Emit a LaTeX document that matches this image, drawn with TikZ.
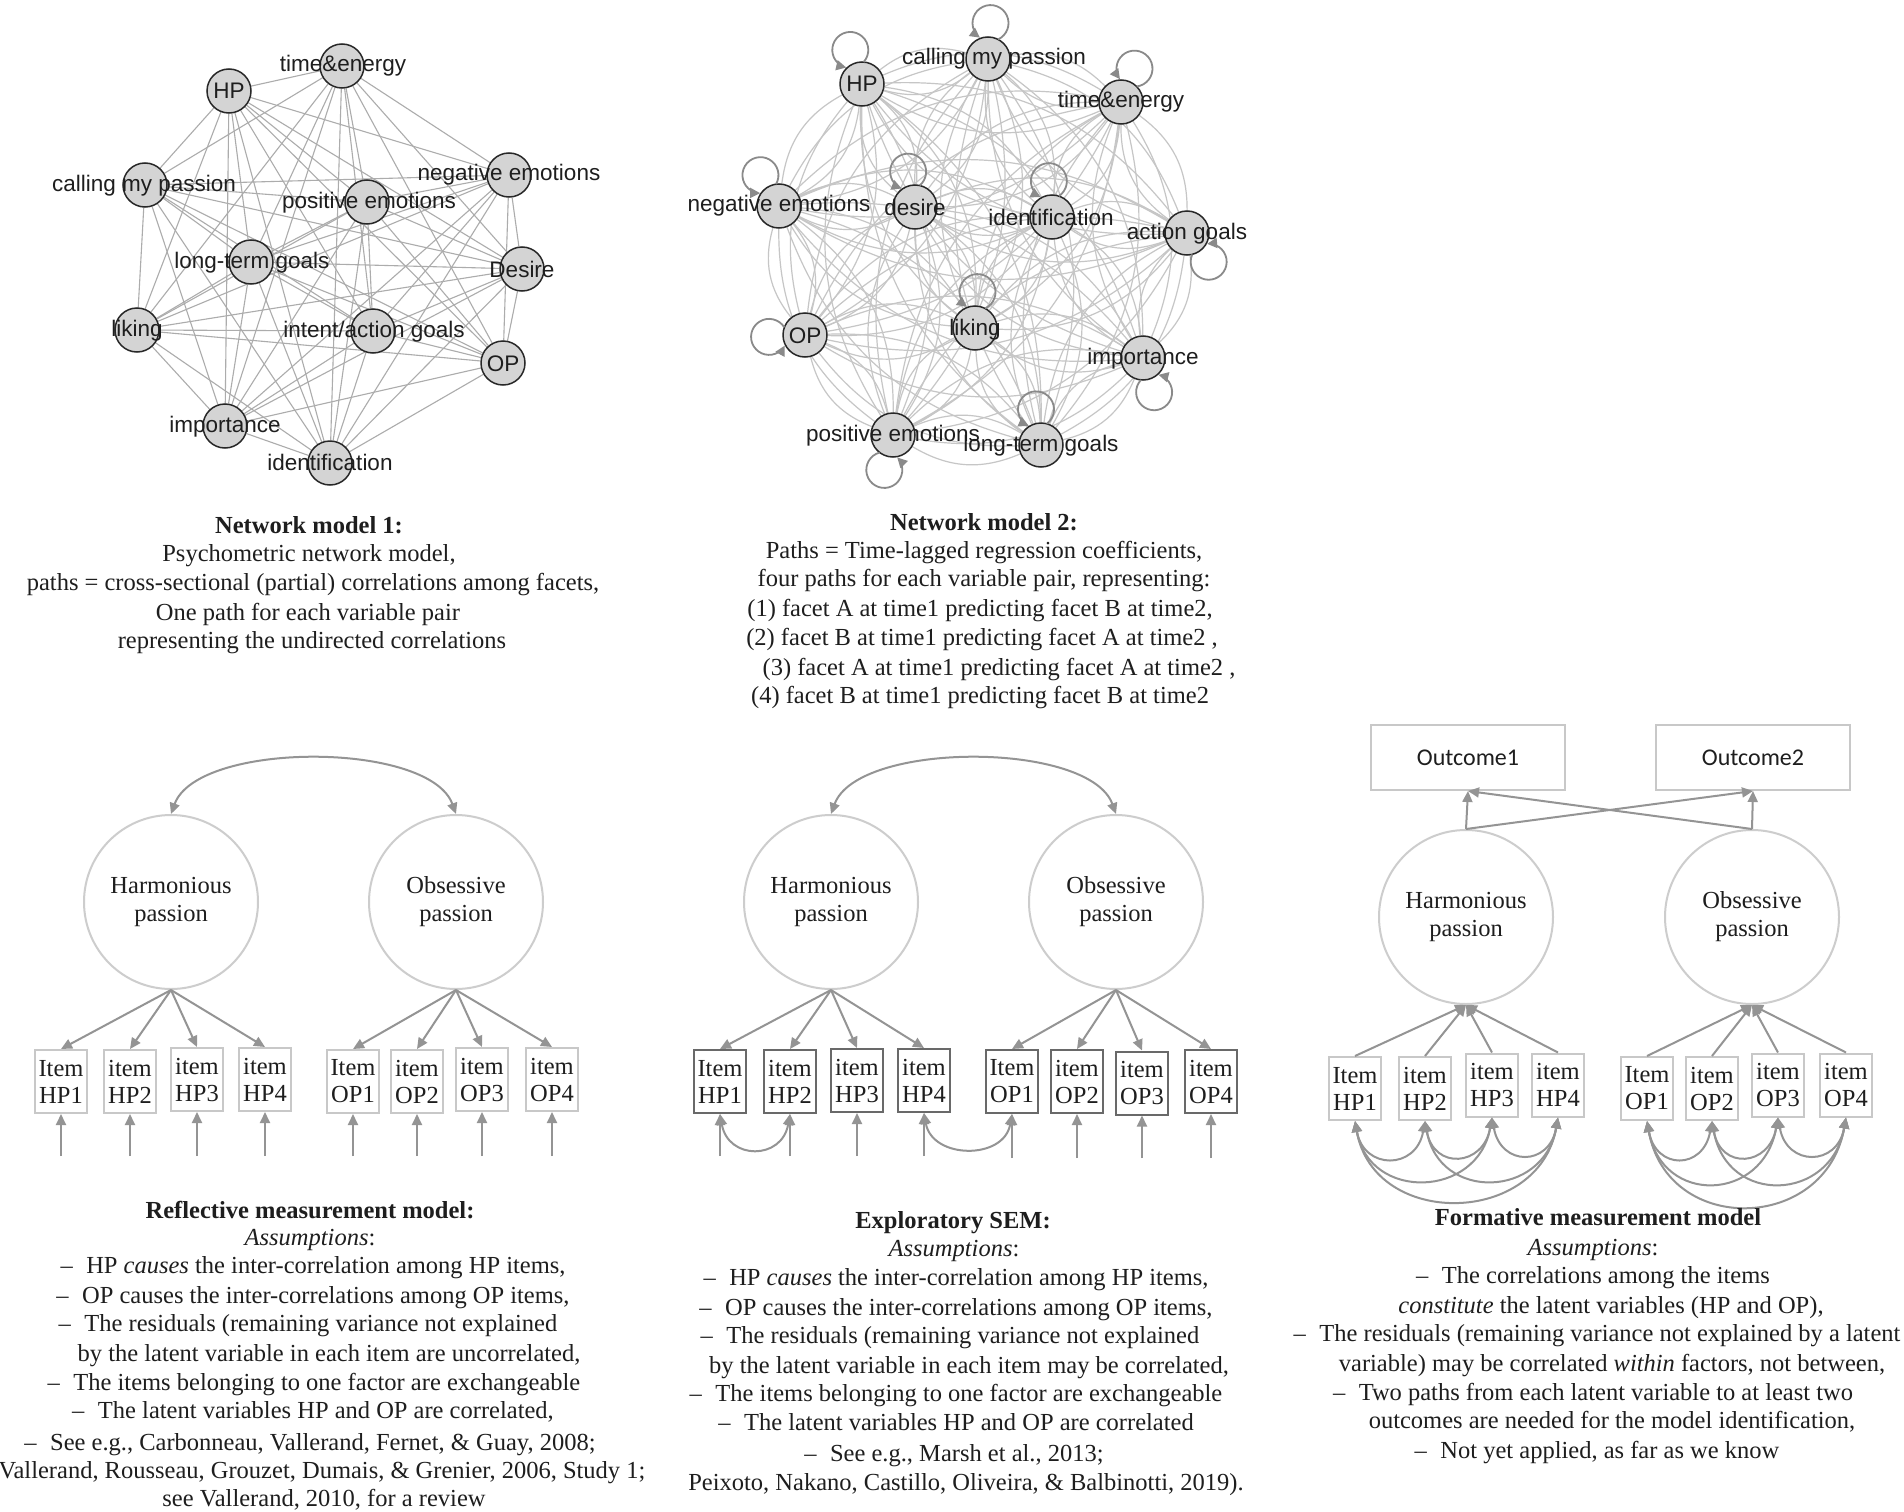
\documentclass[tikz,border=0pt]{standalone}
\usepackage{fontspec}
\setmainfont{Liberation Serif}
\newfontfamily\netfont{Liberation Sans}
\newfontfamily\calfont{Carlito}
\usetikzlibrary{arrows.meta}
\definecolor{txtc}{RGB}{30,30,30}
\definecolor{nodefill}{RGB}{212,212,212}
\definecolor{nodeline}{RGB}{40,40,40}
\definecolor{edgeA}{RGB}{172,172,172}
\definecolor{edgeB}{RGB}{198,198,198}
\definecolor{loopc}{RGB}{138,138,138}
\definecolor{arrc}{RGB}{148,148,148}
\definecolor{boxc}{RGB}{200,200,200}
\definecolor{circc}{RGB}{205,205,205}
\definecolor{darkbox}{RGB}{105,105,105}
\pgfdeclarelayer{back}
\pgfdeclarelayer{bg}
\pgfsetlayers{back,bg,main}
\newcommand{\mydash}{–\hspace{0.55em}}
\newcommand{\capline}[4]{\node[txt] (#1) at (#2,-#3) {#4};}
\begin{document}
\begin{tikzpicture}[x=1pt,y=1pt,
  netnode/.style={circle,draw=nodeline,fill=nodefill,line width=1.5pt,minimum size=44pt,inner sep=0pt},
  netlab/.style={anchor=base,inner sep=0pt,text=txtc,font=\netfont\fontsize{22.5}{27}\selectfont},
  eA/.style={draw=edgeA,line width=1.1pt},
  eB/.style={draw=edgeB,line width=1.2pt},
  loopst/.style={draw=loopc,line width=1.8pt,-{Triangle[length=10pt,width=10pt]}},
  latent/.style={circle,draw=circc,line width=2pt,minimum size=174pt,inner sep=0pt,align=center,text=txtc,font=\fontsize{24.5}{28}\selectfont},
  itembox/.style={draw=boxc,line width=2pt,minimum width=52pt,minimum height=63pt,inner sep=0pt,align=center,text=txtc,font=\fontsize{24.5}{27}\selectfont},
  esembox/.style={itembox,draw=darkbox},
  outbox/.style={draw=boxc,line width=2pt,minimum width=194pt,minimum height=65pt,inner sep=0pt,text=txtc,font=\calfont\fontsize{24}{28}\selectfont},
  arr/.style={draw=arrc,line width=2pt,-{Triangle[length=11pt,width=10pt]}},
  darr/.style={draw=arrc,line width=2pt,{Triangle[length=11pt,width=10pt]}-{Triangle[length=11pt,width=10pt]}},
  txt/.style={anchor=base,inner sep=0pt,text=txtc,font=\fontsize{24.5}{29.5}\selectfont}
]
\begin{pgfonlayer}{back}
\fill[white] (0,0) rectangle (1904,-1512);
\end{pgfonlayer}
\path[use as bounding box] (0,0) rectangle (1904,-1512);

% ---------------- Network model 1 ----------------
\foreach \n/\x/\y in {a1/342/66,a2/229/91,a3/145/185,a4/367/202,a5/509/175,a6/251/262,
  a7/522/269,a8/137/330,a9/373/331,a10/503/363,a11/225/426,a12/330/463}
  {\node[netnode] (\n) at (\x,-\y) {};}
\begin{pgfonlayer}{bg}
\foreach \i in {1,...,11}{
  \pgfmathtruncatemacro\ii{\i+1}
  \foreach \j in {\ii,...,12}{\draw[eA] (a\i) -- (a\j);}
}
\end{pgfonlayer}
\foreach \n/\x/\y/\t in {la1/343/72/time\&energy,la2/229/99/HP,la3/144/191/calling my passion,
  la4/369/208/positive emotions,la5/509/180/negative emotions,la6/252/268/long-term goals,
  la7/522/277/Desire,la8/137/336/liking,la9/374/337/{intent/action goals},la10/503/371/OP,
  la11/225/432/importance,la12/330/470/identification}
  {\node[netlab] (\n) at (\x,-\y) {\t};}

% ---------------- Network model 2 ----------------
\foreach \n/\x/\y in {b1/862/84,b2/988/59,b3/1121/102,b4/779/206,b5/915/207,b6/1052/217,
  b7/1187/233,b8/805/335,b9/975/328,b10/1143/358,b11/893/435,b12/1041/445}
  {\node[netnode] (\n) at (\x,-\y) {};}
\begin{pgfonlayer}{bg}
\foreach \i in {1,...,11}{
  \pgfmathtruncatemacro\ii{\i+1}
  \foreach \j in {\ii,...,12}{
    \draw[eB] (b\i) to[bend left=27] (b\j);
    \draw[eB] (b\j) to[bend left=27] (b\i);}
}
\end{pgfonlayer}
\foreach \n/\t in {b1/109,b2/86,b3/68,b4/121,b5/101,b6/95,b7/-53,b8/183,b9/86,b10/-72,b11/-104,b12/98}{
  \pgfmathtruncatemacro\ta{\t-151}
  \pgfmathtruncatemacro\tb{\t+148}
  \draw[loopst] ([shift={(\t:36)}]\n.center) ++(\ta:18) arc[start angle=\ta, end angle=\tb, radius=18];
}
\foreach \n/\x/\y/\t in {lb1/862/92/HP,lb2/994/65/calling my passion,lb3/1121/107/time\&energy,
  lb4/779/211/negative emotions,lb5/915/215/desire,lb6/1051/225/identification,
  lb7/1187/239/action goals,lb8/805/343/OP,lb9/975/335/liking,lb10/1143/364/importance,
  lb11/893/441/positive emotions,lb12/1041/451/long-term goals}
  {\node[netlab] (\n) at (\x,-\y) {\t};}

% ---------------- Captions, networks ----------------
\capline{tn1}{309}{533}{\textbf{Network model 1:}}
\capline{tn2}{309}{561}{Psychometric network model,}
\capline{tn3}{313}{590}{paths = cross-sectional (partial) correlations among facets,}
\capline{tn4}{308}{620}{One path for each variable pair}
\capline{tn5}{312}{648}{representing the undirected correlations}

\capline{tm1}{984}{530}{\textbf{Network model 2:}}
\capline{tm2}{984}{558}{Paths = Time-lagged regression coefficients,}
\capline{tm3}{984}{586}{four paths for each variable pair, representing:}
\capline{tm4}{980}{616}{(1) facet A at time1 predicting facet B at time2,}
\capline{tm5}{982}{645}{(2) facet B at time1 predicting facet A at time2 ,}
\capline{tm6}{999}{675}{(3) facet A at time1 predicting facet A at time2 ,}
\capline{tm7}{980}{703}{(4) facet B at time1 predicting facet B at time2}

% ---------------- Reflective measurement model ----------------
\node[latent] (rhp) at (171,-902) {Harmonious\\passion};
\node[latent] (rop) at (456,-902) {Obsessive\\passion};
\draw[darr] (rhp.north) to[out=70,in=110,looseness=0.7] (rop.north);
\foreach \n/\x/\y/\a/\b in {rh1/61/1081.5/Item/HP1,rh2/130/1081.5/item/HP2,rh3/197/1079.5/item/HP3,rh4/265/1079.5/item/HP4}{
  \node[itembox] (\n) at (\x,-\y) {\a\\\b};
  \draw[arr] (rhp.south) -- (\n.north);
  \coordinate (\n r) at (\x,-1156);
  \draw[arr] (\n r) -- (\n.south);}
\foreach \n/\x/\y/\a/\b in {ro1/353/1081.5/Item/OP1,ro2/417/1081.5/item/OP2,ro3/482/1079.5/item/OP3,ro4/552/1079.5/item/OP4}{
  \node[itembox] (\n) at (\x,-\y) {\a\\\b};
  \draw[arr] (rop.south) -- (\n.north);
  \coordinate (\n r) at (\x,-1156);
  \draw[arr] (\n r) -- (\n.south);}

% ---------------- Exploratory SEM ----------------
\node[latent] (ehp) at (831,-902) {Harmonious\\passion};
\node[latent] (eop) at (1116,-902) {Obsessive\\passion};
\draw[darr] (ehp.north) to[out=70,in=110,looseness=0.7] (eop.north);
\foreach \n/\x/\y/\a/\b in {eh1/720/1081.5/Item/HP1,eh2/790/1081.5/item/HP2,eh3/857/1080.5/item/HP3,eh4/924/1080.5/item/HP4}{
  \node[esembox] (\n) at (\x,-\y) {\a\\\b};
  \draw[arr] (ehp.south) -- (\n.north);
  \coordinate (\n r) at (\x,-1156);
  \draw[arr] (\n r) -- (\n.south);}
\foreach \n/\x/\y/\a/\b in {eo1/1012/1081.5/Item/OP1,eo2/1077/1081.5/item/OP2,eo3/1142/1083/item/OP3,eo4/1211/1081.5/item/OP4}{
  \node[esembox] (\n) at (\x,-\y) {\a\\\b};
  \draw[arr] (eop.south) -- (\n.north);
  \coordinate (\n r) at (\x,-1158);
  \draw[arr] (\n r) -- (\n.south);}
\draw[darr] (eh1.south) .. controls +(-80:47) and +(-100:47) .. (eh2.south);
\draw[darr] (eh4.south) .. controls +(-80:47) and +(-100:47) .. (eo1.south);

% ---------------- Formative measurement model ----------------
\node[outbox] (out1) at (1468,-757.5) {Outcome1};
\node[outbox] (out2) at (1753,-757.5) {Outcome2};
\node[latent] (fhp) at (1466,-917) {Harmonious\\passion};
\node[latent] (fop) at (1752,-917) {Obsessive\\passion};
\draw[arr] (fhp.north) -- (out1.south);
\draw[arr] (fhp.north) -- (out2.south);
\draw[arr] (fop.north) -- (out2.south);
\draw[arr] (fop.north) -- (out1.south);
\foreach \n/\x/\y/\a/\b in {fh1/1355/1088.5/Item/HP1,fh2/1425/1088.5/item/HP2,fh3/1492/1085/item/HP3,fh4/1558/1085/item/HP4}{
  \node[itembox] (\n) at (\x,-\y) {\a\\\b};
  \draw[arr] (\n.north) -- (fhp.south);}
\foreach \n/\x/\y/\a/\b in {fo1/1647/1088.5/Item/OP1,fo2/1712/1088.5/item/OP2,fo3/1778/1085/item/OP3,fo4/1846/1085/item/OP4}{
  \node[itembox] (\n) at (\x,-\y) {\a\\\b};
  \draw[arr] (\n.north) -- (fop.south);}
\foreach \p/\q/\k in {fh1/fh2/50,fh2/fh3/50,fh3/fh4/50,fh1/fh3/82,fh2/fh4/82,fh1/fh4/110,
  fo1/fo2/50,fo2/fo3/50,fo3/fo4/50,fo1/fo3/86,fo2/fo4/86,fo1/fo4/117}
  {\draw[darr] (\p.south) .. controls +(-80:\k) and +(-100:\k) .. (\q.south);}

% ---------------- Captions, measurement models ----------------
\capline{tr1}{310}{1218}{\textbf{Reflective measurement model:}}
\capline{tr2}{310}{1245}{\textit{Assumptions}:}
\capline{tr3}{313}{1273}{\mydash HP \textit{causes} the inter-correlation among HP items,}
\capline{tr4}{313}{1303}{\mydash OP causes the inter-correlations among OP items,}
\capline{tr5}{308}{1331}{\mydash The residuals (remaining variance not explained}
\capline{tr6}{329}{1361}{by the latent variable in each item are uncorrelated,}
\capline{tr7}{314}{1390}{\mydash The items belonging to one factor are exchangeable}
\capline{tr8}{313}{1418}{\mydash The latent variables HP and OP are correlated,}
\capline{tr9}{310}{1450}{\mydash See e.g., Carbonneau, Vallerand, Fernet, \& Guay, 2008;}
\capline{tr10}{322}{1478}{Vallerand, Rousseau, Grouzet, Dumais, \& Grenier, 2006, Study 1;}
\capline{tr11}{324}{1506}{see Vallerand, 2010, for a review}

\capline{te1}{953}{1228}{\textbf{Exploratory SEM:}}
\capline{te2}{954}{1256}{\textit{Assumptions}:}
\capline{te3}{956}{1285}{\mydash HP \textit{causes} the inter-correlation among HP items,}
\capline{te4}{956}{1315}{\mydash OP causes the inter-correlations among OP items,}
\capline{te5}{950}{1343}{\mydash The residuals (remaining variance not explained}
\capline{te6}{969}{1373}{by the latent variable in each item may be correlated,}
\capline{te7}{956}{1401}{\mydash The items belonging to one factor are exchangeable}
\capline{te8}{956}{1430}{\mydash The latent variables HP and OP are correlated}
\capline{te9}{954}{1461}{\mydash See e.g., Marsh et al., 2013;}
\capline{te10}{966}{1490}{Peixoto, Nakano, Castillo, Oliveira, \& Balbinotti, 2019).}

\capline{tf1}{1598}{1225}{\textbf{Formative measurement model}}
\capline{tf2}{1593}{1255}{\textit{Assumptions}:}
\capline{tf3}{1593}{1283}{\mydash The correlations among the items}
\capline{tf4}{1611}{1313}{\textit{constitute} the latent variables (HP and OP),}
\capline{tf5}{1597}{1341}{\mydash The residuals (remaining variance not explained by a latent}
\capline{tf6}{1612}{1371}{variable) may be correlated \textit{within} factors, not between,}
\capline{tf7}{1593}{1400}{\mydash Two paths from each latent variable to at least two}
\capline{tf8}{1612}{1428}{outcomes are needed for the model identification,}
\capline{tf9}{1597}{1458}{\mydash Not yet applied, as far as we know}
\end{tikzpicture}
\end{document}
